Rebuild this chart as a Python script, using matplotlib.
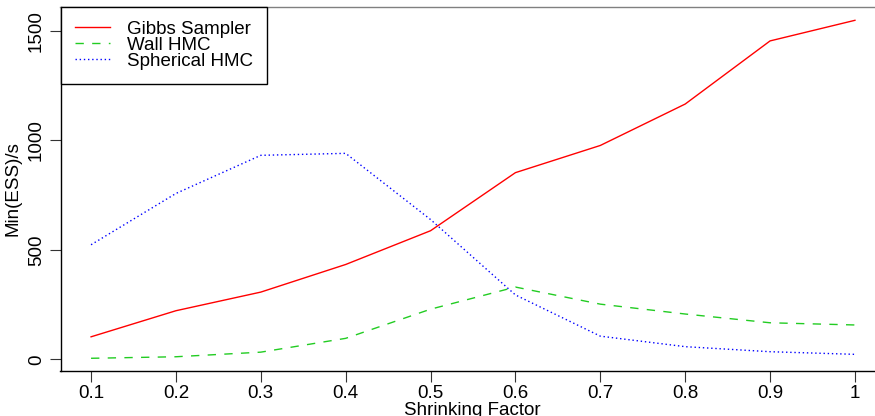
import matplotlib
matplotlib.use("Agg")
import matplotlib.pyplot as plt

plt.rcParams["font.family"] = ["Liberation Sans", "DejaVu Sans"]

shrink = [0.1, 0.2, 0.3, 0.4, 0.5, 0.6, 0.7, 0.8, 0.9, 1.0]
gibbs = [103, 222, 307, 433, 587, 852, 976, 1165, 1453, 1547]
wall_hmc = [5, 12, 33, 96, 229, 330, 252, 207, 167, 157]
spherical_hmc = [523, 757, 931, 940, 638, 294, 106, 58, 35, 23]

x_ticks = [0.1, 0.2, 0.3, 0.4, 0.5, 0.6, 0.7, 0.8, 0.9, 1.0]
x_tick_labels = ["0.1", "0.2", "0.3", "0.4", "0.5", "0.6", "0.7", "0.8", "0.9", "1"]
y_ticks = [0, 500, 1000, 1500]

fig = plt.figure(figsize=(8.75, 4.16), dpi=100)
ax = fig.add_axes([60.5 / 875, 1 - 371 / 416, 825 / 875, 364.5 / 416])

ax.plot(shrink, gibbs, color="red", lw=1.0, label="Gibbs Sampler")
ax.plot(shrink, wall_hmc, color="#22cc22", lw=1.0, linestyle=(0, (6, 6)), label="Wall HMC")
ax.plot(shrink, spherical_hmc, color="blue", lw=1.0, linestyle=(0, (1, 2)), label="Spherical HMC")

ax.set_xlim(0.064, 1.036)
ax.set_ylim(-53, 1610)

ax.set_xticks(x_ticks)
ax.set_xticklabels(x_tick_labels)
ax.set_yticks(y_ticks)
ax.set_yticklabels([str(v) for v in y_ticks], rotation=90, va="center")
ax.tick_params(axis="both", labelsize=13.5, length=7.7, width=0.8, color="#333333")
ax.tick_params(axis="x", pad=2.5)
ax.tick_params(axis="y", pad=3.5)

ax.set_xlabel("Shrinking Factor", fontsize=13.5)
ax.set_ylabel("Min(ESS)/s", fontsize=13.5)
ax.xaxis.set_label_coords(0.499, -0.086)
ax.yaxis.set_label_coords(-0.047, 0.5)

ax.spines["left"].set_color("black")
ax.spines["bottom"].set_color("black")
ax.spines["top"].set_color("gray")
ax.spines["right"].set_color("gray")
for s in ax.spines.values():
    s.set_linewidth(1.0)

leg = ax.legend(loc="upper left", bbox_to_anchor=(0, 1), borderaxespad=0,
                fontsize=13.5, handlelength=1.9, handletextpad=0.9,
                labelspacing=-0.06, fancybox=False, framealpha=1, borderpad=0.75)
leg.get_frame().set_edgecolor("black")
leg.get_frame().set_linewidth(1.0)

fig.savefig("out.png", dpi=100)
